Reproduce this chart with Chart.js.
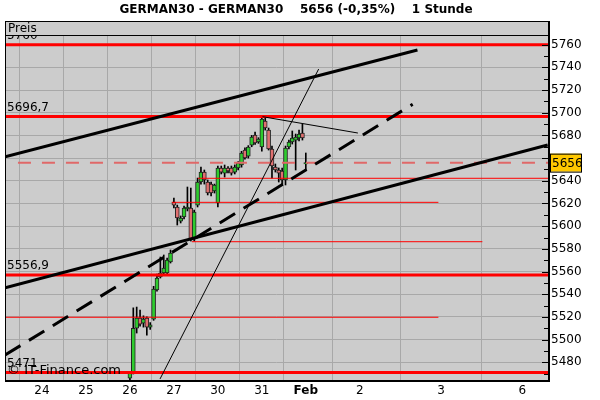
<!DOCTYPE html>
<html>
<head>
<meta charset="utf-8">
<script src="https://cdn.jsdelivr.net/npm/chart.js@4.4.1/dist/chart.umd.min.js"></script>
<style>
  html, body { margin: 0; padding: 0; background: #fff; }
  #wrap { width: 600px; height: 400px; }
</style>
</head>
<body>
<div id="wrap"><canvas id="chart"></canvas></div>
<script>
// hourly candles, bar index 0 = first hour of the 26th
const opens  = [5466, 5471, 5510, 5519, 5514.6, 5519, 5511, 5518, 5543.7, 5555.2, 5558.7, 5558.7, 5568.4,
                5621.3, 5616.9, 5604.5, 5608.1, 5615.1, 5616, 5588.6, 5618.6, 5638.9, 5647.7, 5638.9, 5637.1, 5631,
                5620.4, 5651.3, 5646.8, 5651.3, 5651.3, 5647.7, 5651.3, 5653.9, 5667.1, 5661.8, 5671.5, 5680.3, 5674.2,
                5669.8, 5692.7, 5684.7, 5668, 5652.1, 5649.5, 5648.6, 5640.7, 5669.8, 5674.2, 5675.9, 5677.7, 5682.1,
                5654.8];
const highs  = [5472, 5528, 5528.7, 5526, 5521, 5520, 5515, 5547, 5557.8, 5572.8, 5574.6, 5571.9, 5579,
                5624.8, 5618.6, 5609, 5617.8, 5634.5, 5633.6, 5614.2, 5642.4, 5652.1, 5649.5, 5640.7, 5638.9, 5637.1,
                5653, 5653, 5653.9, 5652.5, 5653, 5654, 5657, 5666, 5669, 5671, 5680, 5683, 5678,
                5696.7, 5695.3, 5686.5, 5670.6, 5654.8, 5651.3, 5651.3, 5670.6, 5675.9, 5683.9, 5681.2, 5684.7, 5690,
                5664.5];
const lows   = [5464.5, 5469.7, 5505.8, 5511.9, 5511, 5504, 5509, 5517, 5542.8, 5554.3, 5556.9, 5557.8, 5567.5,
                5616, 5601, 5602.8, 5606.3, 5613.4, 5586.9, 5586.9, 5616.9, 5637.1, 5637.1, 5627.5, 5626.6, 5629.2,
                5616.9, 5646, 5643.3, 5647, 5645, 5646, 5649.5, 5652, 5659, 5660, 5670, 5672, 5673,
                5666.2, 5684.7, 5667.1, 5642.4, 5647.7, 5638.9, 5636.3, 5636.3, 5668, 5672.4, 5649.5, 5675.1, 5675.9,
                5649.5];
const closes = [5470.5, 5510, 5519, 5513.7, 5518, 5511, 5513, 5544.6, 5554.3, 5558.7, 5563.1, 5570.2, 5576.3,
                5618.6, 5607.2, 5607.2, 5616, 5616.9, 5587.8, 5612.5, 5638.9, 5647.7, 5640.7, 5629.2, 5629.2, 5636.3,
                5651.3, 5647.7, 5651.3, 5648.6, 5646.8, 5652.1, 5655.7, 5664.5, 5660.1, 5669.8, 5678.6, 5673.3, 5676.8,
                5694.4, 5686.5, 5668, 5653, 5649.5, 5646.8, 5640.7, 5668.9, 5674.2, 5677.7, 5678.6, 5681.2, 5677.7,
                5656];

// day separators (bar index) and their labels
const dayTicks  = [-26, -13, 0, 13, 26, 39, 52, 68, 92, 116];
const dayLabels = ['24', '25', '26', '27', '30', '31', 'Feb', '2', '3', '6'];
const priceTicks = [5480, 5500, 5520, 5540, 5560, 5580, 5600, 5620, 5640, 5660, 5680, 5700, 5720, 5740, 5760];

// drawn trend lines: [barIndex, price]
const upperChannel = [[-36.9, 5661.2], [85.0, 5755.3]];
const lowerChannel = [[-36.9, 5545.7], [123.5, 5671.5]];
const dashedTrend  = [[-36.9, 5486.4], [83.6, 5707.4]];
const steepLine    = [[8.9, 5465.3], [55.8, 5738.5]];
const peakLine     = [[39.2, 5696.5], [67.4, 5682.1]];

// horizontal levels
const levelPrices = [5760, 5696.7, 5656, 5642.2, 5621, 5586.3, 5556.9, 5519.7, 5471];
const levelFrom   = [-37, -37, -33.1, 20.1, 12.4, 18.3, -37, -37, -37];
const levelTo     = [124, 124, 124, 124, 91.2, 104.2, 124, 91.2, 124];
const levelTexts  = ['5760', '5696,7', null, null, null, null, '5556,9', null, '5471'];

const lastPrice = 5656;
const title = 'GERMAN30 - GERMAN30    5656 (-0,35%)    1 Stunde';

const FONT = 'DejaVu Sans';
const XMIN = -36.93, XMAX = 123.6, YMIN = 5464.4, YMAX = 5768.5;

const up = closes.map((c, i) => c >= opens[i]);
const pts = a => a.map(p => ({ x: p[0], y: p[1] }));

const datasets = [];
datasets.push({
  type: 'bar', label: 'wick', order: 10, grouped: false,
  data: highs.map((h, i) => ({ x: i, y: [lows[i], h] })),
  backgroundColor: '#000', barThickness: 1
});
datasets.push({
  type: 'bar', label: 'body', order: 9, grouped: false,
  data: opens.map((o, i) => {
    let a = Math.min(o, closes[i]), b = Math.max(o, closes[i]);
    if (b - a < 1.2) b = a + 1.2;
    return { x: i, y: [a, b] };
  }),
  backgroundColor: up.map(u => u ? '#2ecc2e' : '#e07070'),
  borderColor: '#222', borderWidth: 1, borderSkipped: false, barThickness: 4
});

levelPrices.forEach((p, i) => {
  const thick = levelTexts[i] !== null;
  const dashed = p === lastPrice;
  datasets.push({
    type: 'line', order: 2,
    data: [{ x: levelFrom[i], y: p }, { x: levelTo[i], y: p }],
    borderColor: dashed ? '#e06868' : '#ff0000',
    borderWidth: dashed ? 2 : (thick ? 3 : 1),
    borderDash: dashed ? [13, 11] : [],
    pointRadius: 0
  });
});

[[upperChannel, 3, []], [lowerChannel, 3, []], [dashedTrend, 3, [18, 10]],
 [steepLine, 1, []], [peakLine, 1, []]].forEach(d => {
  datasets.push({
    type: 'line', order: 1, data: pts(d[0]),
    borderColor: '#000', borderWidth: d[1], borderDash: d[2], pointRadius: 0
  });
});

const decor = {
  id: 'decor',
  beforeDraw(chart) {
    const { ctx, chartArea: a } = chart;
    ctx.save();
    ctx.fillStyle = '#cccccc';
    ctx.fillRect(a.left, a.top, a.right - a.left, a.bottom - a.top);
    ctx.restore();
  },
  afterDatasetsDraw(chart) {
    const { ctx, chartArea: a, scales: { y } } = chart;
    ctx.save();
    // level captions
    ctx.font = '12px ' + FONT;
    ctx.fillStyle = '#000';
    ctx.textBaseline = 'bottom';
    levelPrices.forEach((p, i) => {
      if (levelTexts[i]) ctx.fillText(levelTexts[i], a.left + 2, y.getPixelForValue(p) - 3);
    });
    ctx.font = '13px ' + FONT;
    ctx.fillText('\u00a9 IT-Finance.com', a.left + 2, a.bottom - 3);

    // header band
    ctx.fillStyle = '#cccccc';
    ctx.fillRect(a.left, 21, a.right - a.left, a.top - 21);
    ctx.strokeStyle = '#000';
    ctx.lineWidth = 1;
    ctx.strokeRect(a.left + 0.5, 21.5, a.right - a.left, a.top - 21);
    ctx.fillStyle = '#000';
    ctx.font = '12px ' + FONT;
    ctx.textBaseline = 'middle';
    ctx.fillText('Preis', a.left + 3, 28.5);

    // left border
    ctx.beginPath();
    ctx.moveTo(a.left + 0.5, 21);
    ctx.lineTo(a.left + 0.5, a.bottom);
    ctx.stroke();

    // small ticks inside the price axis
    for (let v = 5470; v <= 5760; v += 10) {
      const py = Math.round(y.getPixelForValue(v)) + 0.5;
      ctx.beginPath();
      ctx.moveTo(a.right - (v % 20 === 0 ? 6 : 4), py);
      ctx.lineTo(a.right, py);
      ctx.stroke();
    }
    // axis lines
    ctx.lineWidth = 2;
    ctx.beginPath();
    ctx.moveTo(a.right + 1, 21);
    ctx.lineTo(a.right + 1, a.bottom + 1);
    ctx.lineTo(a.left, a.bottom + 1);
    ctx.stroke();
    ctx.restore();
  },
  afterDraw(chart) {
    const { ctx, chartArea: a, scales: { y } } = chart;
    ctx.save();
    // last price box over the axis labels
    const py = y.getPixelForValue(lastPrice);
    ctx.fillStyle = '#ffc800';
    ctx.fillRect(a.right + 2, py - 9, 31, 18);
    ctx.strokeStyle = '#000';
    ctx.lineWidth = 1;
    ctx.strokeRect(a.right + 2.5, py - 8.5, 31, 18);
    ctx.fillStyle = '#000';
    ctx.font = '12px ' + FONT;
    ctx.textAlign = 'left';
    ctx.textBaseline = 'middle';
    ctx.fillText(String(lastPrice), a.right + 4, py + 1);

    // title
    ctx.font = 'bold 12px ' + FONT;
    ctx.textAlign = 'center';
    ctx.fillText(title, 296, 10);
    ctx.restore();
  }
};

new Chart(document.getElementById('chart'), {
  data: { datasets },
  options: {
    responsive: true, maintainAspectRatio: false, animation: false,
    layout: { padding: { left: 5, top: 35, right: 0, bottom: 0 } },
    plugins: { legend: { display: false }, tooltip: { enabled: false } },
    scales: {
      x: {
        type: 'linear', min: XMIN, max: XMAX, offset: false,
        afterBuildTicks: s => { s.ticks = dayTicks.map(v => ({ value: v })); },
        afterFit: s => { s.height = 20; },
        grid: { color: '#a8a8a8', drawTicks: false },
        border: { display: false },
        ticks: {
          padding: 4, color: '#000', maxRotation: 0, autoSkip: false,
          font: c => ({ family: FONT, size: 12, weight: c.tick && c.tick.value === 52 ? 'bold' : 'normal' }),
          callback: v => dayLabels[dayTicks.indexOf(v)]
        }
      },
      y: {
        type: 'linear', position: 'right', min: YMIN, max: YMAX,
        afterBuildTicks: s => { s.ticks = priceTicks.map(v => ({ value: v })); },
        afterFit: s => { s.width = 52; },
        grid: { color: '#a8a8a8', drawTicks: false },
        border: { display: false },
        ticks: {
          padding: 3, color: '#000', font: { family: FONT, size: 12 },
          // the 5660 label sits under the last price box
          callback: v => (Math.abs(v - lastPrice) < 10 ? '' : String(v))
        }
      }
    }
  },
  plugins: [decor]
});
</script>
</body>
</html>
